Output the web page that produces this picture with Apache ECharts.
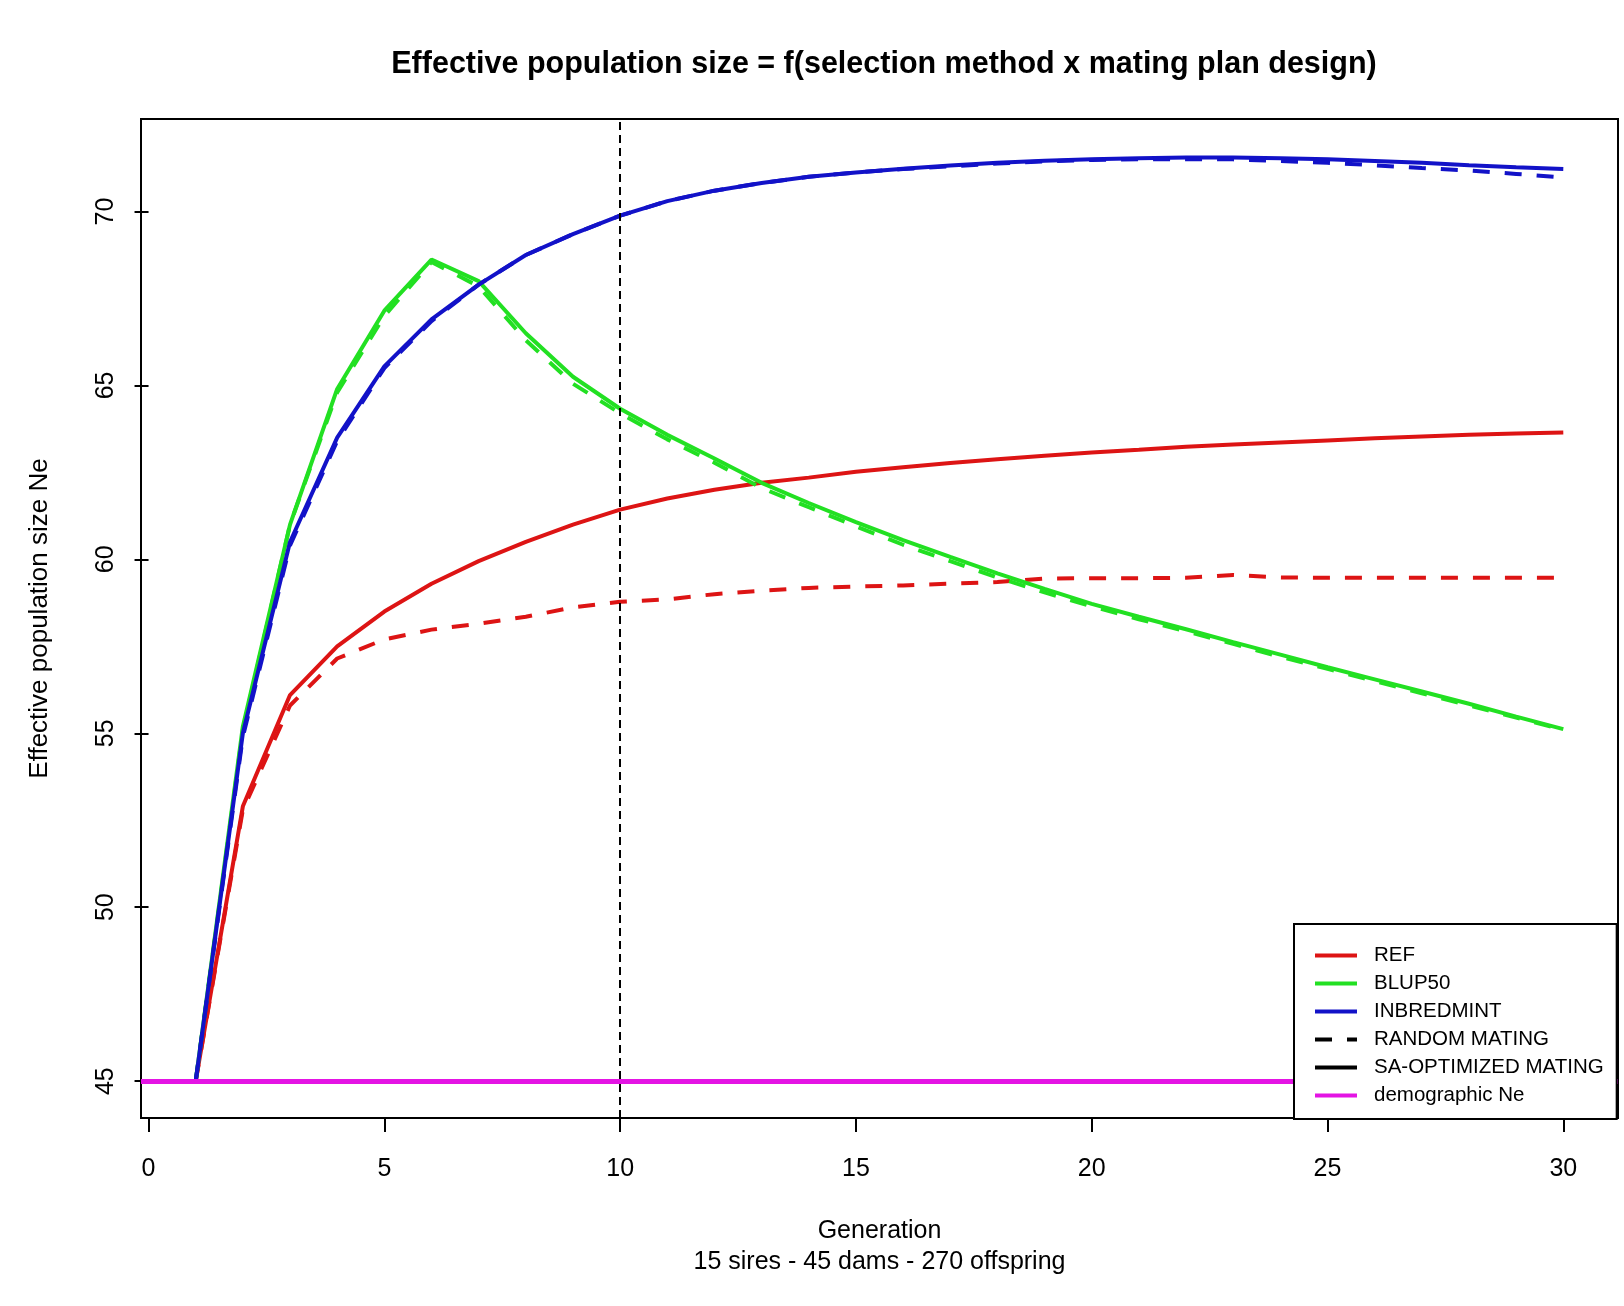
<!DOCTYPE html>
<html>
<head>
<meta charset="utf-8">
<script src="https://cdn.jsdelivr.net/npm/echarts@6/dist/echarts.min.js"></script>
<style>
html,body{margin:0;padding:0;background:#fff;}
#chart{width:1624px;height:1306px;}
</style>
</head>
<body>
<div id="chart"></div>
<script>
// ---- data ----
const generations = [1,2,3,4,5,6,7,8,9,10,11,12,13,14,15,16,17,18,19,20,21,22,23,24,25,26,27,28,29,30];
const refSA      = [45,52.9,56.1,57.5,58.5,59.3,59.95,60.5,61.0,61.43,61.75,62.0,62.2,62.35,62.52,62.65,62.77,62.88,62.98,63.07,63.15,63.24,63.3,63.36,63.42,63.48,63.53,63.58,63.62,63.65];
const refRandom  = [45,52.8,55.8,57.15,57.7,57.98,58.15,58.35,58.62,58.78,58.85,59.0,59.1,59.18,59.22,59.25,59.3,59.35,59.45,59.46,59.46,59.47,59.55,59.48,59.47,59.47,59.47,59.47,59.47,59.47];
const blupSA     = [45,55.2,61.0,64.9,67.15,68.62,68.0,66.5,65.25,64.33,63.58,62.9,62.2,61.62,61.07,60.55,60.07,59.6,59.15,58.72,58.35,57.99,57.62,57.26,56.9,56.55,56.2,55.85,55.48,55.12];
const blupRandom = [45,55.1,61.0,64.8,67.0,68.55,67.85,66.3,65.05,64.2,63.45,62.78,62.05,61.5,60.95,60.42,59.95,59.48,59.05,58.65,58.28,57.93,57.57,57.2,56.85,56.5,56.15,55.8,55.45,55.1];
const inbSA      = [45,55.0,60.5,63.5,65.55,66.9,67.9,68.75,69.35,69.88,70.3,70.6,70.82,71.0,71.12,71.23,71.32,71.4,71.46,71.5,71.53,71.55,71.55,71.53,71.5,71.45,71.4,71.33,71.27,71.22];
const inbRandom  = [45,54.9,60.4,63.4,65.5,66.85,67.9,68.75,69.35,69.88,70.3,70.6,70.82,71.0,71.12,71.22,71.3,71.38,71.44,71.48,71.5,71.5,71.5,71.45,71.4,71.33,71.25,71.18,71.08,70.98];
const demographicNe = 45;
const markedGeneration = 10;
const xTicks = [0,5,10,15,20,25,30];
const yTicks = [45,50,55,60,65,70];
const legendNames = ['REF','BLUP50','INBREDMINT','RANDOM MATING','SA-OPTIMIZED MATING','demographic Ne'];

const FONT = "'Liberation Sans', Arial, sans-serif";
const RED = '#dd1414', GREEN = '#22e022', BLUE = '#1212c8', MAGENTA = '#e414e4';
const DASH = [17, 15];

function pairs(ys){ return generations.map((g,i)=>[g, ys[i]]); }
function lineSeries(name, ys, color, dashed){
  return {
    name: name, type: 'line', data: pairs(ys), symbol: 'none', smooth: false,
    lineStyle: {color: color, width: 4, type: dashed ? DASH : 'solid'},
    itemStyle: {color: color}, z: 3
  };
}

const chart = echarts.init(document.getElementById('chart'), null, {renderer: 'canvas'});
chart.setOption({
  animation: false,
  backgroundColor: '#fff',
  textStyle: {fontFamily: FONT, color: '#000'},
  title: {
    text: 'Effective population size = f(selection method x mating plan design)',
    left: 879, top: 44, textAlign: 'center',
    textStyle: {fontFamily: FONT, fontSize: 30.5, fontWeight: 'bold', color: '#000'}
  },
  grid: {
    left: 141, top: 119, width: 1477, height: 999,
    show: true, borderColor: '#000', borderWidth: 2, backgroundColor: 'transparent'
  },
  xAxis: {
    type: 'value', min: -0.16, max: 31.16,
    name: 'Generation\n15 sires - 45 dams - 270 offspring',
    nameLocation: 'middle', nameGap: 98,
    nameTextStyle: {fontFamily: FONT, fontSize: 25, color: '#000', lineHeight: 31},
    axisLine: {show: false},
    axisTick: {show: true, length: 14, customValues: xTicks, lineStyle: {color: '#000', width: 2}},
    axisLabel: {show: true, customValues: xTicks, margin: 39, fontFamily: FONT, fontSize: 25, color: '#000'},
    splitLine: {show: false}
  },
  yAxis: {
    type: 'value', min: 43.94, max: 72.66,
    name: 'Effective population size Ne',
    nameLocation: 'middle', nameGap: 88, nameRotate: 90,
    nameTextStyle: {fontFamily: FONT, fontSize: 26, color: '#000'},
    axisLine: {show: false},
    axisTick: {show: true, length: 14, customValues: yTicks, lineStyle: {color: '#000', width: 2}},
    axisLabel: {show: true, customValues: yTicks, rotate: 90, margin: 22, fontFamily: FONT, fontSize: 25, color: '#000'},
    splitLine: {show: false}
  },
  legend: {
    data: legendNames,
    z: 20,
    orient: 'vertical', left: 1294, top: 924,
    padding: [21, 13, 13, 19],
    itemWidth: 42, itemHeight: 20, itemGap: 7,
    backgroundColor: '#fff', borderColor: '#000', borderWidth: 2, borderRadius: 0,
    lineStyle: {width: 4},
    itemStyle: {opacity: 0},
    textStyle: {fontFamily: FONT, fontSize: 20.5, color: '#000', padding: [0, 0, 0, 12]},
    selectedMode: false
  },
  series: [
    lineSeries('REF', refSA, RED, false),
    lineSeries('REF', refRandom, RED, true),
    lineSeries('BLUP50', blupSA, GREEN, false),
    lineSeries('BLUP50', blupRandom, GREEN, true),
    lineSeries('INBREDMINT', inbSA, BLUE, false),
    lineSeries('INBREDMINT', inbRandom, BLUE, true),
    {name: 'RANDOM MATING', type: 'line', data: [], symbol: 'none',
     lineStyle: {color: '#000', width: 4, type: DASH}, itemStyle: {color: '#000'}},
    {name: 'SA-OPTIMIZED MATING', type: 'line', data: [], symbol: 'none',
     lineStyle: {color: '#000', width: 4, type: 'solid'}, itemStyle: {color: '#000'}},
    {name: 'demographic Ne', type: 'line', data: [], symbol: 'none', z: 3,
     lineStyle: {color: MAGENTA, width: 5}, itemStyle: {color: MAGENTA},
     markLine: {silent: true, symbol: ['none','none'], label: {show: false},
       lineStyle: {color: MAGENTA, width: 5, type: 'solid'},
       data: [{yAxis: demographicNe}]}},
    {name: 'generation marker', type: 'line', data: [], symbol: 'none', z: 3,
     markLine: {silent: true, symbol: ['none','none'], label: {show: false},
       lineStyle: {color: '#000', width: 2, type: [8, 5]},
       data: [{xAxis: markedGeneration}]}}
  ]
});
</script>
</body>
</html>
